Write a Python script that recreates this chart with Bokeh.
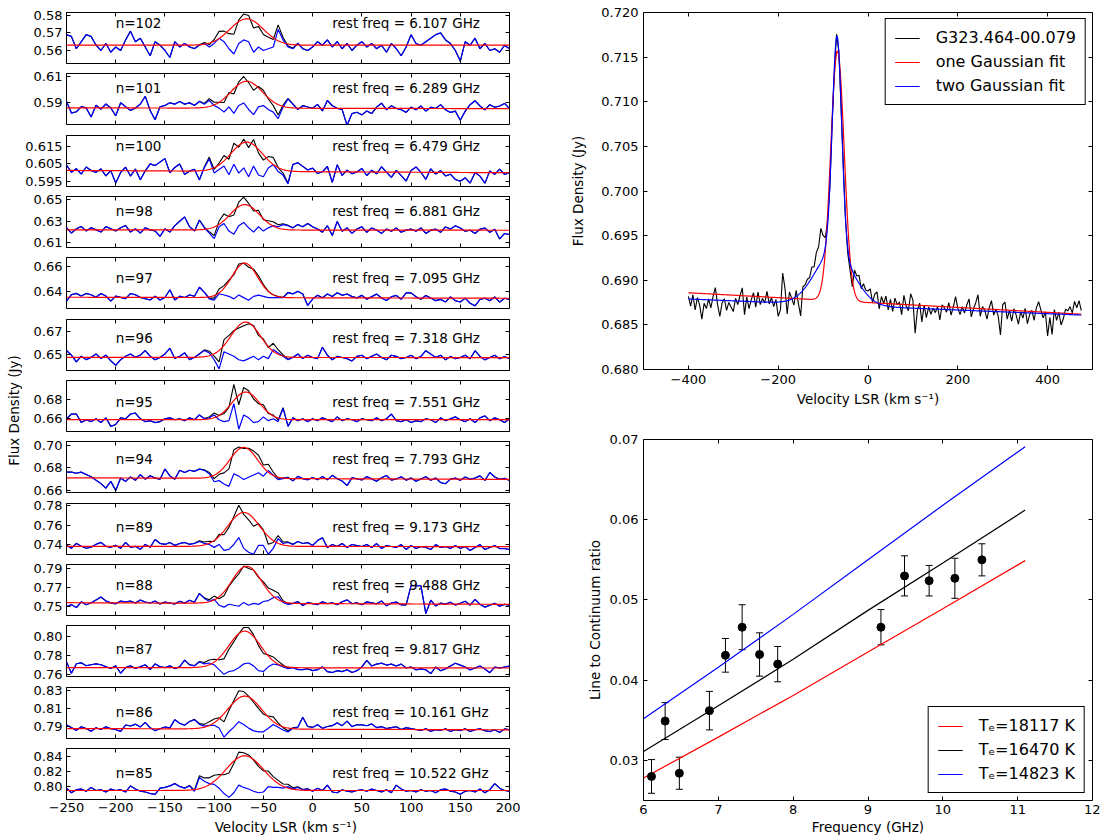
import numpy as np
from bokeh.plotting import figure
from bokeh.models import (Range1d, LinearAxis, FixedTicker, NumeralTickFormatter,
                          Label, Whisker, TeeHead, ColumnDataSource)
from bokeh.layouts import row, column
from bokeh.embed import file_html
from bokeh.resources import INLINE

FONT = "DejaVu Sans"

# ---------------------------------------------------------------- left column data
n_levels = [102, 101, 100, 98, 97, 96, 95, 94, 89, 88, 87, 86, 85]
rest_freq_ghz = [6.107, 6.289, 6.479, 6.881, 7.095, 7.318, 7.551, 7.793,
                 9.173, 9.488, 9.817, 10.161, 10.522]
baseline_start_jy = [0.5630, 0.5858, 0.6013, 0.6220, 0.6358, 0.6472, 0.6583,
                     0.6714, 0.7383, 0.7544, 0.7674, 0.7882, 0.7950]
baseline_end_jy = [0.5630, 0.5852, 0.6000, 0.6216, 0.6350, 0.6470, 0.6583,
                   0.6700, 0.7380, 0.7527, 0.7669, 0.7868, 0.7950]
fit_amp_mjy = [15.0, 20.7, 16.6, 23.4, 27.0, 31.0, 29.2, 27.2, 34.8, 38.6, 38.8, 36.0, 45.4]
fit_center_kms = [-67, -67, -67, -69, -69, -68, -68, -70, -70, -67, -69, -69, -69]
fit_sigma_kms = [17, 16, 16, 15, 13, 15, 14, 14, 16, 15, 16, 17, 19]

# residual (data minus one-Gaussian fit), mJy, channels -250..200 km/s every 5 km/s
resid_n102 = [6, 5, -2, 2, 6, 5, 0, -3, 1, -4,
              -1, -3, 3, 8, 2, 4, -1, -6, 2, 0,
              -3, -7, 2, -1, 1, -1, -2, 0, 1, -1,
              1, 4, 2, -2, -5, 1, 3, 2, -4, -1,
              -3, -2, -1, 9, 3, -1, -2, 1, -2, -3,
              -1, 2, 0, 3, -1, 2, -2, 1, -3, 0,
              2, -1, 1, -2, 0, -4, 1, -2, -6, -1,
              6, 1, 0, 2, 4, 6, 7, 3, 1, -3,
              -9, 2, 0, 4, -2, 1, -3, -2, -4, 0,
              -2]
resid_n101 = [5, -4, -3, 1, 0, -7, 2, -1, 3, 0,
              -6, 4, 1, -2, 0, 3, 9, -2, -9, 1,
              2, 4, 3, 5, 3, 4, 2, 5, 3, 6,
              2, 0, -3, 1, -4, 2, 4, -1, -5, 1,
              2, -1, -3, -8, 1, 7, 3, -1, 2, 1,
              0, 3, -2, 6, 2, 0, -1, -13, -4, -3,
              -5, -2, -4, 1, 4, -1, 2, 0, -1, -3,
              1, -1, 2, -2, 1, 0, 3, -1, -3, -2,
              -9, -2, 3, 6, 2, -1, 3, 1, 2, 4,
              0]
resid_n100 = [3, -1, 1, -2, 2, 0, -1, 1, -3, 0,
              -7, -1, 2, -3, 1, -5, 0, 4, 3, 5,
              7, -1, 2, 4, -2, 0, 1, -5, 2, 7,
              -1, 1, 3, -2, 4, -1, 2, -3, 3, -2,
              -3, 2, 4, 0, -2, -7, 4, 5, 3, 1,
              2, -1, 0, 3, -6, 4, -2, 1, -1, 0,
              2, -2, 1, -1, 3, 0, -3, 1, -2, -5,
              1, 3, 0, -4, 2, -1, 1, -2, -1, -4,
              -5, -3, -6, 0, -2, -6, 1, -1, 2, -1,
              0]
resid_n98 = [2, -3, 1, 3, -1, 2, 0, -2, 3, 1,
             -1, 2, 4, -2, 1, -3, 2, 0, -1, -6,
             1, -2, 4, 8, 12, 3, -1, 9, 2, -3,
             -8, 3, 6, -1, -4, 4, 7, 2, -2, 3,
             -1, 2, 4, 3, 5, 4, 2, 5, 3, 6,
             3, 1, -2, 4, -5, 8, -1, 2, -3, 1,
             3, -2, 2, 0, -3, 1, -1, 2, -2, 0,
             1, -1, 2, -3, 0, 1, -2, 3, 1, 4,
             2, -1, 0, -3, 1, 2, -2, 1, -8, -3,
             -4]
resid_n97 = [-3, 2, 3, 1, 3, 2, 0, 3, 1, -3,
             1, 0, -1, 3, 2, 0, -1, -2, 1, -2,
             0, 6, -2, 1, 0, 2, 1, 8, 4, -1,
             -2, 3, 2, 1, -1, 2, 0, -2, 1, 2,
             1, 0, 0, 0, 0, 4, 3, 5, 3, -6,
             -1, 2, 0, 3, 1, 4, 2, 3, 1, 0,
             2, -1, 1, 3, 0, -2, 1, 2, -1, 4,
             4, 1, -1, 2, 0, -2, -1, -3, 1, -2,
             -3, 0, -4, -6, -1, 0, -2, 1, -3, 0,
             -1]
resid_n96 = [6, 2, -4, 1, -2, 0, 3, -1, 2, -3,
             -7, -2, 1, 3, 0, 2, 6, 1, -2, 0,
             3, 8, -1, 1, 4, -2, 0, 3, 6, 4,
             -2, -10, 5, 3, 1, -2, -3, -1, 1, -2,
             1, -1, 7, 4, 1, -2, 0, 3, -1, 2,
             0, -1, 9, 2, -2, 1, 0, -1, -3, 1,
             2, -1, 1, 3, 0, -2, 2, 1, -1, 0,
             2, -1, 1, 6, 3, 0, 2, -2, 1, -1,
             0, 2, -1, 6, 1, -2, 0, 2, -1, 1,
             -1]
resid_n95 = [1, 6, 6, -3, 0, -2, 1, -3, 2, -7,
             -5, 2, 1, 6, 7, 1, -2, -1, -3, -2,
             1, 2, 0, 1, -1, 2, 0, 5, 1, 2,
             5, 0, -2, -1, 17, -10, 5, 2, -3, -2,
             3, -1, 1, -2, 12, -7, 2, -1, 1, -2,
             1, -1, 2, 0, -2, 3, -1, 1, 0, -2,
             1, 0, -1, 2, -1, 1, 6, -1, -2, 0,
             -3, -1, -2, 1, 0, -3, 2, -1, 1, 3,
             0, -2, 1, -3, 2, 4, -1, 2, 0, -3,
             1]
resid_n94 = [5, 5, 4, 5, 3, 1, -2, -5, -9, -3,
             -11, 0, -3, 1, -2, 3, -1, 2, 0, -1,
             8, 2, -1, 7, 5, 7, 6, 8, 7, 4,
             -3, -2, -5, -7, 4, 2, -1, 1, 3, 5,
             2, 7, 3, -1, 0, 1, -2, 2, 0, -1,
             1, -1, 2, -1, 3, 0, -2, -6, 1, 0,
             -1, 2, 0, -2, 1, 3, -1, 0, 2, -1,
             1, -2, 0, 2, -1, 1, -3, -4, 0, 1,
             -1, 2, 0, 1, 3, -1, 6, 2, 0, 1,
             -1]
resid_n89 = [1, -2, 3, 0, -2, -1, 2, 4, 0, -1,
             1, -2, 4, -1, 0, -3, 2, -1, 7, 3,
             2, 4, 1, 3, 4, 2, 3, 5, 3, 2,
             -1, 2, -4, -3, 2, 9, -2, -6, -8, 1,
             1, -8, -2, 8, 3, 4, 2, 5, 3, 4,
             1, 6, 9, -1, 2, 0, 3, -1, 2, 1,
             0, 2, -1, 3, -2, 1, 0, -1, 2, -3,
             1, -2, 0, -1, -3, 2, -1, 0, -2, 1,
             -2, 0, -4, -1, 2, -3, -1, 1, -2, -2,
             -3]
resid_n88 = [-4, -2, -5, 1, -2, 0, 3, 6, 2, 0,
             -1, 2, 1, 2, 0, 3, 1, 0, 2, -1,
             1, 0, -1, 2, 0, 3, 1, 10, 5, 2,
             4, -2, -4, -1, -2, -3, 1, -2, 0, -1,
             2, 3, 6, 7, 1, -1, 0, 2, -2, 1,
             0, -1, 2, 0, 1, -1, 2, 4, 0, 1,
             -1, 2, 1, 0, 3, -2, 1, 2, -1, -1,
             19, 19, 19, -10, 4, -2, 1, 0, 2, -1,
             1, 3, -1, 5, 0, -3, -1, 1, -2, 0,
             -1]
resid_n87 = [6, -6, 4, 5, 2, 3, 4, 3, 1, -1,
             2, -6, 0, 2, -1, 1, 3, -2, 4, 1,
             0, 2, -1, 1, 8, 3, 2, 6, 4, 5,
             3, -2, -7, -4, -3, 0, 4, 5, 2, -3,
             -4, 1, 4, 3, 1, -1, 0, -2, -2, -1,
             -3, -2, 1, -4, -5, -3, -4, -2, -5, -3,
             1, 8, 2, 4, 5, 3, 4, 2, 4, 0,
             1, -2, -1, -2, -6, 1, -3, -1, 2, 5,
             3, 1, -2, 0, 2, -1, -5, 1, 0, 1,
             2]
resid_n86 = [4, 1, -2, 2, 0, -3, 1, -1, 2, 0,
             -1, -3, 4, 3, 5, 2, 7, 1, -2, 0,
             2, 1, 10, 6, 4, 8, 10, 5, 3, 4,
             4, 1, -9, -3, 2, 8, 5, 1, -2, -3,
             -3, 1, 5, 2, -1, -3, 1, 2, 13, 3,
             2, 5, 1, 3, 4, 7, 4, 9, 3, 5,
             5, 4, 6, 2, 3, 1, 2, 3, 0, 2,
             1, 0, -1, 1, -2, 0, -1, 1, -2, 0,
             -1, 1, -2, 0, 1, -1, -2, 0, -3, 1,
             0]
resid_n85 = [3, -3, 1, 2, -1, 4, 0, 1, -2, 2,
             0, 1, -2, 6, 2, -1, -2, -4, -5, 3,
             4, 6, 9, 5, 3, 6, -1, 17, 12, 9,
             8, 3, -4, -9, -3, 7, 4, 2, -1, -3,
             -2, 5, 4, 4, 3, 5, 2, 4, 1, 2,
             -1, 3, 0, 7, -2, -3, 1, -1, -2, 0,
             1, -1, 2, 0, -2, 1, -3, 7, 2, -1,
             0, -2, 1, -1, 0, -3, 1, 2, -1, -2,
             -5, -1, 0, -2, 2, -3, 1, 9, 3, 0,
             -1]
residuals = [resid_n102, resid_n101, resid_n100, resid_n98, resid_n97, resid_n96,
             resid_n95, resid_n94, resid_n89, resid_n88, resid_n87, resid_n86, resid_n85]

panel_ylim = [(0.5526, 0.5816), (0.5730, 0.6122), (0.5922, 0.6211), (0.6057, 0.6527),
              (0.6270, 0.6668), (0.6357, 0.6803), (0.6459, 0.6996), (0.6585, 0.7032),
              (0.7299, 0.7821), (0.7411, 0.7941), (0.7579, 0.8120), (0.7773, 0.8330),
              (0.7832, 0.8499)]
panel_yticks = [[0.56, 0.57, 0.58], [0.59, 0.61], [0.595, 0.605, 0.615], [0.61, 0.63, 0.65],
                [0.64, 0.66], [0.65, 0.67], [0.66, 0.68], [0.66, 0.68, 0.70],
                [0.74, 0.76, 0.78], [0.75, 0.77, 0.79], [0.76, 0.78, 0.80],
                [0.79, 0.81, 0.83], [0.80, 0.82, 0.84]]
panel_yfmt = ["0.00", "0.00", "0.000", "0.00", "0.00", "0.00", "0.00", "0.00",
              "0.00", "0.00", "0.00", "0.00", "0.00"]
label_yfrac = [0.79, 0.72, 0.79, 0.71, 0.60, 0.63, 0.58, 0.65, 0.54, 0.59, 0.53, 0.52, 0.51]
vel_ticks = [-250, -200, -150, -100, -50, 0, 50, 100, 150, 200]

# ---------------------------------------------------------------- top-right data
g323_name = "G323.464-00.079"
fit2_baseline_jy = [0.6879, 0.6861]        # at -400 and 475 km/s
fit2_narrow = [24.2, -69.0, 10.5]          # mJy, km/s, km/s
fit2_broad = [6.0, -75.0, 42.0]
fit1_baseline_jy = [0.6886, 0.6862]
fit1_gauss = [28.0, -68.0, 15.0]
g323_resid_mjy = [0.3, -0.8, 0.5, -1.2, 0.2, -0.6, -2.2, -0.4, -1.0, 0.1,
                  -0.9, 0.4, 1.4, -0.5, -1.8, -0.3, 0.2, -1.1, -0.2, -0.7,
                  -1.2, 0.3, -0.4, 0.6, 1.5, -1.5, 0.5, -0.8, 0.2, 1.0,
                  -0.6, 1.1, -0.3, 0.4, -0.1, 1.2, -0.2, 0.5, -0.5, 0.3,
                  -1.6, -0.9, 3.2, 1.5, -1.5, 0.9, 0.1, -0.8, 0.7, -1.0,
                  -2.6, 0.4, 0.3, 0.6, 0.4, 1.2, 0.8, 2.0, 2.2, 3.8,
                  2.4, 1.0, 0.5, -0.3, 0.2, -0.5, 0.3, 0.1, -0.2, 0.4,
                  -0.3, -0.6, -0.8, -1.8, 0.6, 0.4, 0.9, -0.2, 0.7, 0.3,
                  0.5, 1.0, -0.3, 0.8, 1.2, -0.6, 0.9, 0.2, 1.1, -0.4,
                  0.8, -0.5, 1.0, 0.3, 0.6, -0.8, 1.4, 0.2, -0.3, 1.6,
                  0.9, -2.8, -0.2, 0.6, -1.5, 0.4, -1.0, 0.2, -0.6, 0.1,
                  -0.4, 0.3, -1.2, 0.5, 0.2, -0.3, 0.8, -0.6, 0.3, 1.5,
                  0.2, -0.5, 0.4, -0.3, 0.6, 1.3, -0.7, 0.2, 0.9, 1.8,
                  -0.6, 0.5, 0.1, -0.9, 0.4, 1.2, -0.4, 0.3, -0.5, -2.6,
                  0.8, 1.1, -0.8, 0.2, -1.0, 0.4, -0.3, -1.3, 0.1, -0.6,
                  0.5, -1.2, -0.2, 0.3, -0.8, 0.6, 1.3, 0.4, -0.5, 0.2,
                  -2.5, -0.4, -2.3, 0.5, -0.7, 0.2, -1.2, -0.5, 0.6, 0.4,
                  0.9, 0.2, 1.5, 0.8, 1.6, 0.5]

# ---------------------------------------------------------------- bottom-right data
ratio = [0.0280, 0.0349, 0.0284, 0.0362, 0.0431, 0.0466, 0.0432, 0.0420,
         0.0466, 0.0530, 0.0524, 0.0527, 0.0550]
ratio_err = [0.0021, 0.0023, 0.0020, 0.0024, 0.0021, 0.0028, 0.0027, 0.0022,
             0.0022, 0.0025, 0.0019, 0.0025, 0.0020]
model_freq = [6.0, 7.0, 8.0, 9.0, 10.0, 11.1]
model_te_18117 = [0.0278, 0.0329, 0.0381, 0.0435, 0.0489, 0.0549]
model_te_16470 = [0.0311, 0.0368, 0.0426, 0.0487, 0.0546, 0.0612]
model_te_14823 = [0.0352, 0.0416, 0.0482, 0.0550, 0.0618, 0.0691]

for r in residuals:
    assert len(r) == 91
assert len(g323_resid_mjy) == 176


# ---------------------------------------------------------------- helpers
def gauss(v, amp, cen, sig):
    return amp * np.exp(-0.5 * ((v - cen) / sig) ** 2)


def minus(v):
    return ("\u2212" + str(abs(v))) if v < 0 else str(v)


def style_axis(ax, ticks, fmt=None, overrides=None, show=True, size="13px", standoff=2):
    ax.ticker = FixedTicker(ticks=ticks)
    if fmt is not None:
        ax.formatter = NumeralTickFormatter(format=fmt)
    if overrides is not None:
        ax.major_label_overrides = overrides
    ax.major_tick_in = 4
    ax.major_tick_out = 0
    ax.major_tick_line_color = "black"
    ax.major_tick_line_width = 1
    ax.minor_tick_line_color = None
    ax.axis_line_color = None
    ax.major_label_text_font = FONT
    if show:
        ax.major_label_text_color = "black"
        ax.major_label_text_font_size = size
        ax.major_label_standoff = standoff
    else:
        ax.major_label_text_color = None
        ax.major_label_text_font_size = "0px"
        ax.major_label_standoff = 0
    ax.axis_label_text_font = FONT
    ax.axis_label_text_font_style = "normal"
    ax.axis_label_text_font_size = "13.5px"
    ax.axis_label_text_color = "black"


def frame(p):
    p.outline_line_color = "black"
    p.outline_line_alpha = 1.0
    p.outline_line_width = 1
    p.grid.visible = False
    p.background_fill_color = "white"
    p.border_fill_color = "white"


def box_axes(p, xticks, yticks, xfmt=None, xover=None, yfmt=None, yover=None,
             show_x=True, show_y=True, ystandoff=2):
    frame(p)
    bottom = p.below[0]
    left = p.left[0]
    top = LinearAxis()
    right = LinearAxis()
    p.add_layout(top, "above")
    p.add_layout(right, "right")
    style_axis(bottom, xticks, xfmt, xover, show_x, standoff=3)
    style_axis(left, yticks, yfmt, yover, show_y, standoff=ystandoff)
    style_axis(top, xticks, show=False)
    style_axis(right, yticks, show=False)
    return bottom, left


def style_legend(lg, location):
    lg.location = location
    lg.margin = 7
    lg.padding = 9
    lg.spacing = 5
    lg.label_text_font = FONT
    lg.label_text_font_size = "16px"
    lg.label_text_color = "black"
    lg.label_height = 18
    lg.glyph_height = 18
    lg.glyph_width = 25
    lg.label_standoff = 16
    lg.border_line_color = "black"
    lg.border_line_width = 1
    lg.border_line_alpha = 1
    lg.background_fill_alpha = 1


# ---------------------------------------------------------------- left column
CONTENT_H = 838
FRAME_H = 51
TITLE_W = 22
panel_tops = [round(12 + 61.33 * i) for i in range(13)]
fig_tops = [0] + [t - 5 for t in panel_tops[1:]] + [CONTENT_H]

vel = np.array(list(range(-250, 201, 5)), dtype=float)
vfine = np.linspace(-250, 200, 451)
vel_over = {v: minus(v) for v in vel_ticks}

left_figs = []
for i in range(13):
    h = fig_tops[i + 1] - fig_tops[i]
    mbt = panel_tops[i] - fig_tops[i]
    mbb = h - mbt - FRAME_H
    last = (i == 12)
    p = figure(width=498, height=h, x_range=Range1d(-250, 200),
               y_range=Range1d(*panel_ylim[i]),
               min_border_left=62 - TITLE_W, min_border_right=11,
               min_border_top=mbt, min_border_bottom=mbb,
               toolbar_location=None, output_backend="svg")
    b0, b1 = baseline_start_jy[i], baseline_end_jy[i]
    base = b0 + (b1 - b0) * (vel + 250) / 450.0
    basef = b0 + (b1 - b0) * (vfine + 250) / 450.0
    g = gauss(vel, fit_amp_mjy[i], fit_center_kms[i], fit_sigma_kms[i]) / 1000.0
    gf = gauss(vfine, fit_amp_mjy[i], fit_center_kms[i], fit_sigma_kms[i]) / 1000.0
    blue = base + np.array(residuals[i]) / 1000.0
    black = blue + g
    p.line(vel, black, line_color="black", line_width=1.1)
    p.line(vel, blue, line_color="#0000ff", line_width=1.2)
    p.line(vfine, basef + gf, line_color="#ff0000", line_width=1.2)
    bx, ly = box_axes(p, vel_ticks, panel_yticks[i], xover=vel_over, yfmt=panel_yfmt[i],
                      show_x=last, ystandoff=4)
    if last:
        bx.axis_label = "Velocity LSR (km  s\u207b\u00b9)"
        bx.axis_label_standoff = 4
    y0, y1 = panel_ylim[i]
    ylab = y0 + label_yfrac[i] * (y1 - y0)
    p.add_layout(Label(x=-200, y=ylab, text="n=%d" % n_levels[i], text_font=FONT,
                       text_font_size="13.5px", text_baseline="middle", text_align="left",
                       text_color="black"))
    p.add_layout(Label(x=20, y=ylab, text="rest freq = %.3f GHz" % rest_freq_ghz[i],
                       text_font=FONT, text_font_size="13.5px", text_baseline="middle",
                       text_align="left", text_color="black"))
    left_figs.append(p)

# shared y title for the left column
ttl = figure(width=TITLE_W, height=CONTENT_H, x_range=Range1d(0, TITLE_W),
             y_range=Range1d(0, CONTENT_H),
             min_border_left=0, min_border_right=0, min_border_top=0, min_border_bottom=0,
             toolbar_location=None, output_backend="svg")
ttl.axis.visible = False
ttl.grid.visible = False
ttl.outline_line_color = None
ttl.add_layout(Label(x=13, y=CONTENT_H - 410, text="Flux Density (Jy)",
                     angle=np.pi / 2, text_align="center", text_baseline="middle",
                     text_font=FONT, text_font_size="13.5px", text_color="black"))

# ---------------------------------------------------------------- top-right spectrum
gv = np.array(list(range(-400, 476, 5)), dtype=float)
gfine = np.linspace(-400, 475, 876)


def fit2(v):
    b = fit2_baseline_jy[0] + (fit2_baseline_jy[1] - fit2_baseline_jy[0]) * (v + 400) / 875.0
    return b + (gauss(v, *fit2_narrow) + gauss(v, *fit2_broad)) / 1000.0


def fit1(v):
    b = fit1_baseline_jy[0] + (fit1_baseline_jy[1] - fit1_baseline_jy[0]) * (v + 400) / 875.0
    return b + gauss(v, *fit1_gauss) / 1000.0


g323_flux = fit2(gv) + np.array(g323_resid_mjy) / 1000.0

RB_LEFT = 643 - TITLE_W - 498
RIGHT_W = RB_LEFT + 449 + 8
pt = figure(width=RIGHT_W, height=12 + 357 + 45, x_range=Range1d(-500, 500),
            y_range=Range1d(0.680, 0.720), min_border_left=RB_LEFT, min_border_right=8,
            min_border_top=12, min_border_bottom=45, toolbar_location=None,
            output_backend="svg")
pt.line(gv, g323_flux, line_color="black", line_width=1.1, legend_label=g323_name)
pt.line(gfine, fit1(gfine), line_color="#ff0000", line_width=1.2, legend_label="one Gaussian fit")
pt.line(gfine, fit2(gfine), line_color="#0000ff", line_width=1.2, legend_label="two Gaussian fit")
xt = [-400, -200, 0, 200, 400]
tbx, tly = box_axes(pt, xt, [0.680, 0.685, 0.690, 0.695, 0.700, 0.705, 0.710, 0.715, 0.720],
                    xover={v: minus(v) for v in xt}, yfmt="0.000", ystandoff=5)
tbx.major_label_standoff = 5
tbx.axis_label = "Velocity LSR (km s\u207b\u00b9)"
tbx.axis_label_standoff = 4
tly.axis_label = "Flux Density (Jy)"
tly.axis_label_standoff = 12
style_legend(pt.legend[0], "top_right")
pt.legend[0].margin = 6

# ---------------------------------------------------------------- bottom-right ratio plot
pb_h = CONTENT_H - (12 + 357 + 45)
pb = figure(width=RIGHT_W, height=pb_h, x_range=Range1d(6, 12),
            y_range=Range1d(0.025, 0.07), min_border_left=RB_LEFT, min_border_right=8,
            min_border_top=25, min_border_bottom=pb_h - 25 - 361, toolbar_location=None,
            output_backend="svg")
pb.line(model_freq, model_te_18117, line_color="#ff0000", line_width=1.2,
        legend_label="T\u2091=18117 K")
pb.line(model_freq, model_te_16470, line_color="black", line_width=1.2,
        legend_label="T\u2091=16470 K")
pb.line(model_freq, model_te_14823, line_color="#0000ff", line_width=1.2,
        legend_label="T\u2091=14823 K")
err_src = ColumnDataSource(data=dict(
    f=rest_freq_ghz, r=ratio,
    lo=[a - b for a, b in zip(ratio, ratio_err)],
    hi=[a + b for a, b in zip(ratio, ratio_err)]))
pb.add_layout(Whisker(source=err_src, base="f", lower="lo", upper="hi", dimension="height",
                      line_color="black", line_width=1,
                      upper_head=TeeHead(size=7, line_color="black", line_width=1),
                      lower_head=TeeHead(size=7, line_color="black", line_width=1)))
pb.scatter("f", "r", source=err_src, size=8, fill_color="black", line_color="black")
bbx, bly = box_axes(pb, [6, 7, 8, 9, 10, 11, 12], [0.03, 0.04, 0.05, 0.06, 0.07],
                    yfmt="0.00", ystandoff=5)
bbx.major_label_standoff = 4
bbx.axis_label = "Frequency (GHz)"
bbx.axis_label_standoff = 2
bly.axis_label = "Line to Continuum ratio"
bly.axis_label_standoff = 4
style_legend(pb.legend[0], "bottom_right")

layout = row(ttl, column(*left_figs, spacing=0), column(pt, pb, spacing=0), spacing=0)
open("out.html", "w").write(file_html(layout, INLINE))
